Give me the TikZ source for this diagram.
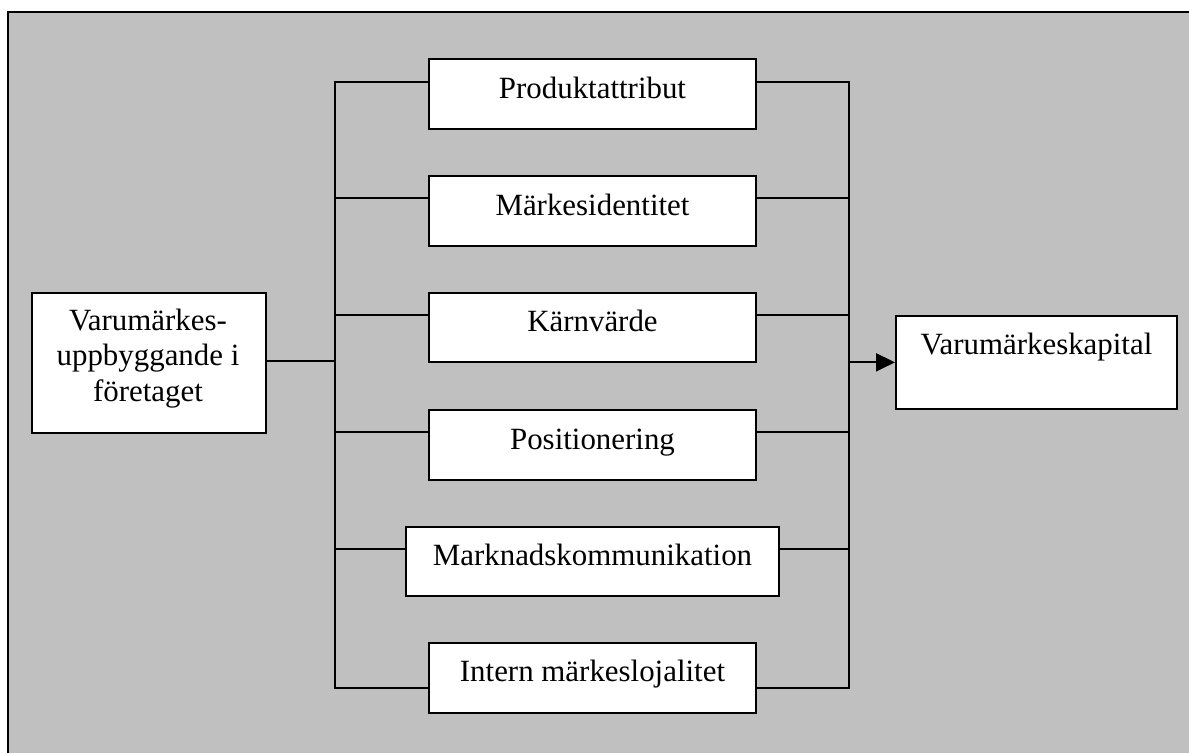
\documentclass[tikz,border=0pt]{standalone}
\usepackage{fontspec}
\setmainfont{Liberation Serif}
\usetikzlibrary{arrows.meta}

\tikzset{
  wire/.style={line width=2pt, line cap=rect},
  box/.style={draw, fill=white, line width=2pt, inner sep=0pt, anchor=north west},
  lbl/.style={inner sep=0pt, anchor=base, font=\fontsize{30.9}{35.3}\selectfont},
  arrowline/.style={line width=2pt, -{Triangle[length=19pt,width=18pt]}}
}

\begin{document}
\begin{tikzpicture}[x=1pt,y=-1pt]
  \useasboundingbox (0,0) rectangle (1189,753);

  % grey panel with its frame
  \fill[fill={rgb,255:red,192;green,192;blue,192}] (7.5,11.5) rectangle (1189,753);
  \draw[line width=2pt] (7.5,753) -- (7.5,11.5) -- (1189,11.5);

  % source box
  \node[box, minimum width=234.3pt, minimum height=140.6pt] (src) at (30.7,291.7) {};
  \node[lbl, align=center, anchor=center] (srct) at (148,358.6)
    {Varumärkes-\\uppbyggande i\\företaget};

  % six factor boxes
  \node[box, minimum width=327.6pt, minimum height=69.6pt] (b1) at (427.7,58.3) {};
  \node[box, minimum width=327.6pt, minimum height=69.6pt] (b2) at (427.7,175) {};
  \node[box, minimum width=327.6pt, minimum height=69.6pt] (b3) at (427.7,291.7) {};
  \node[box, minimum width=327.6pt, minimum height=69.6pt] (b4) at (427.7,409) {};
  \node[box, minimum width=373.6pt, minimum height=69.4pt] (b5) at (404.7,525.7) {};
  \node[box, minimum width=327.6pt, minimum height=70.6pt] (b6) at (427.7,641.7) {};

  \node[lbl] (t1) at ([yshift=-40pt]b1.north) {Produktattribut};
  \node[lbl] (t2) at ([yshift=-40pt]b2.north) {Märkesidentitet};
  \node[lbl] (t3) at ([yshift=-40pt]b3.north) {Kärnvärde};
  \node[lbl] (t4) at ([yshift=-40pt]b4.north) {Positionering};
  \node[lbl] (t5) at ([yshift=-40pt]b5.north) {Marknadskommunikation};
  \node[lbl] (t6) at ([yshift=-40pt]b6.north) {Intern märkeslojalitet};

  % target box
  \node[box, minimum width=281pt, minimum height=92.7pt] (tgt) at (895,315) {};
  \node[lbl] (tt) at ([yshift=-39pt]tgt.north) {Varumärkeskapital};

  % bus junctions
  \coordinate (L1) at (334.7,81.7);
  \coordinate (L2) at (334.7,198.3);
  \coordinate (L3) at (334.7,315.3);
  \coordinate (L4) at (334.7,432);
  \coordinate (L5) at (334.7,549);
  \coordinate (L6) at (334.7,688.3);
  \coordinate (R1) at (849,81.7);
  \coordinate (R2) at (849,198.3);
  \coordinate (R3) at (849,315.3);
  \coordinate (R4) at (849,432);
  \coordinate (R5) at (849,549);
  \coordinate (R6) at (849,688.3);

  % left and right buses
  \draw[wire] (L1) -- (L6);
  \draw[wire] (R1) -- (R6);

  % source to left bus
  \draw[wire] (src.east |- 0,361) -- (L1 |- 0,361);

  % branches
  \foreach \i in {1,...,6} {
    \draw[wire] (L\i) -- (L\i -| b\i.west);
    \draw[wire] (b\i.east |- R\i) -- (R\i);
  }

  % right bus to target
  \draw[arrowline] (tgt.west -| R1) -- (tgt.west);
\end{tikzpicture}
\end{document}
